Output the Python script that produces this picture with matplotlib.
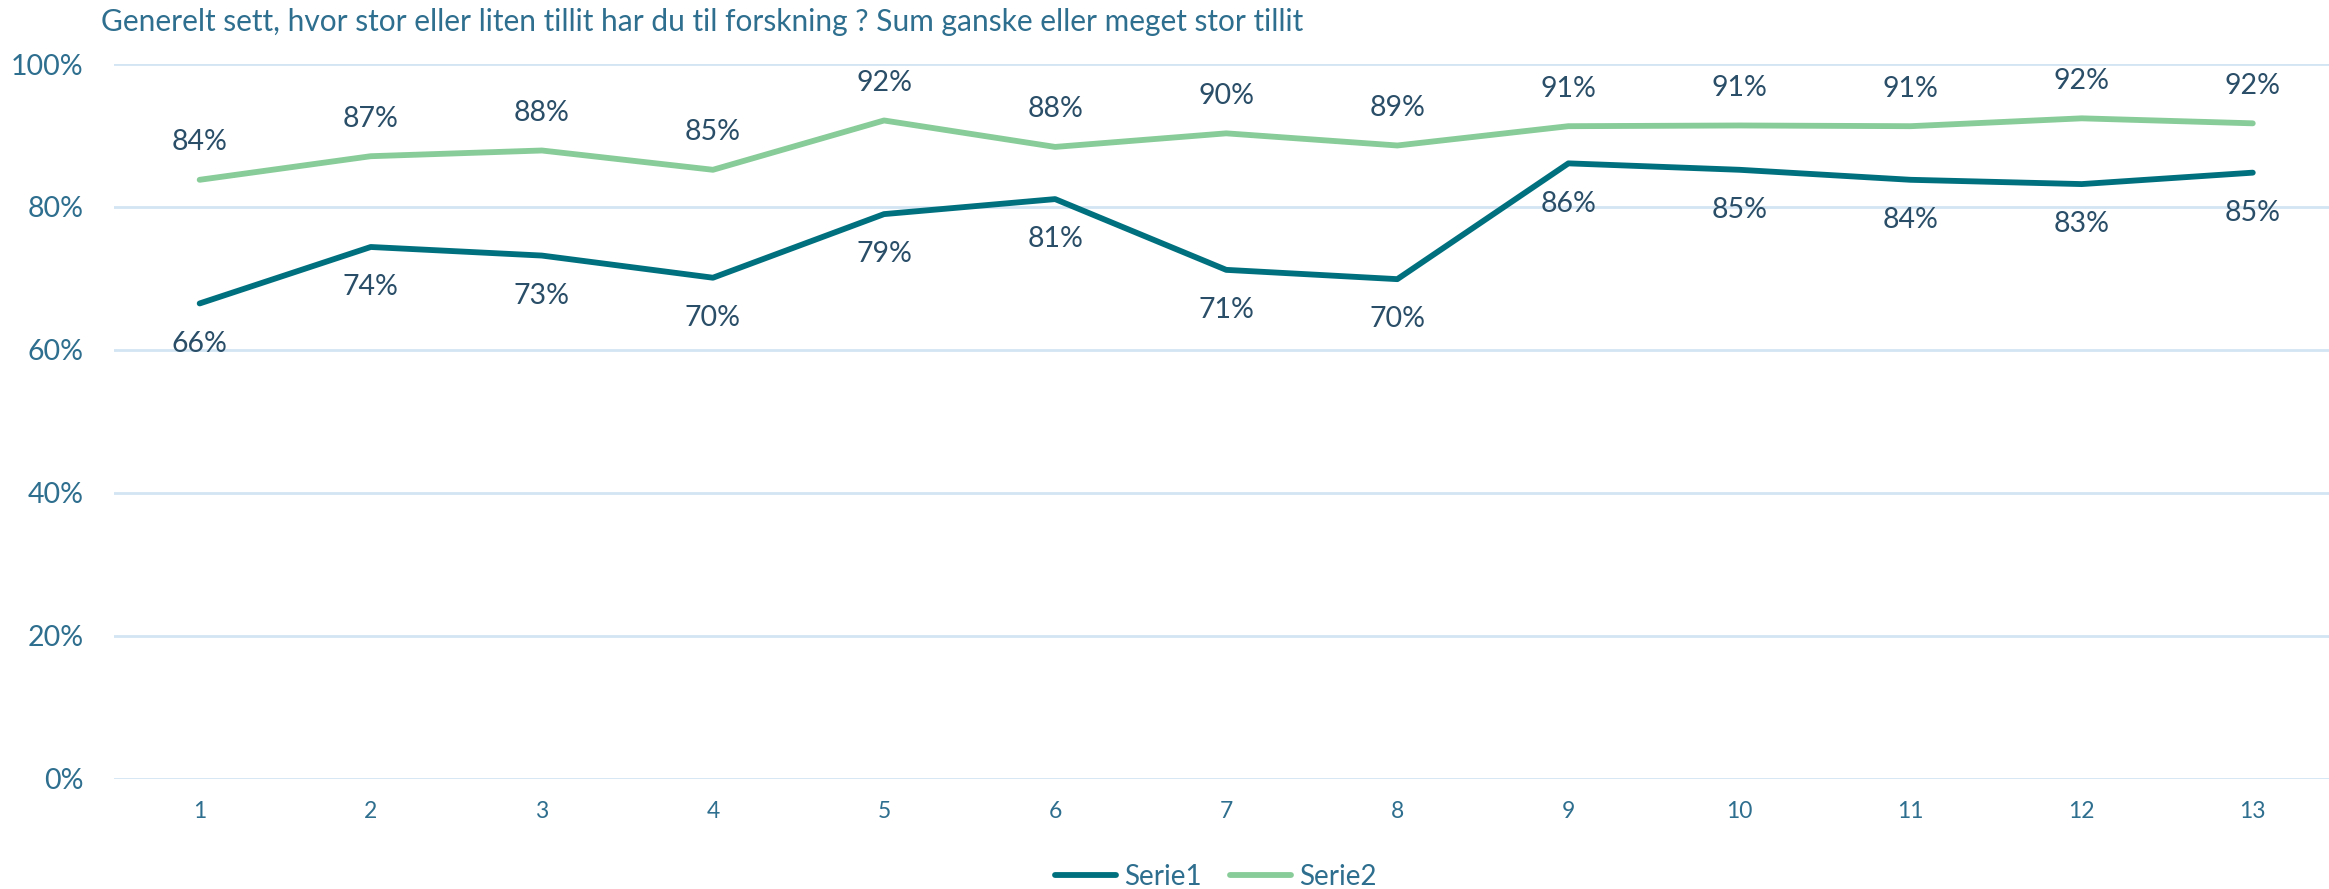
import matplotlib
matplotlib.use("Agg")
import matplotlib.pyplot as plt
from matplotlib.ticker import FuncFormatter

plt.rcParams["font.family"] = ["Lato", "DejaVu Sans"]

# data
rounds = [1, 2, 3, 4, 5, 6, 7, 8, 9, 10, 11, 12, 13]
serie1 = [0.665, 0.744, 0.732, 0.701, 0.790, 0.811, 0.712, 0.699, 0.861, 0.852, 0.838, 0.832, 0.848]
serie2 = [0.838, 0.871, 0.879, 0.852, 0.921, 0.884, 0.903, 0.886, 0.913, 0.914, 0.913, 0.924, 0.917]
labels1 = ["66%", "74%", "73%", "70%", "79%", "81%", "71%", "70%", "86%", "85%", "84%", "83%", "85%"]
labels2 = ["84%", "87%", "88%", "85%", "92%", "88%", "90%", "89%", "91%", "91%", "91%", "92%", "92%"]

title = "Generelt sett, hvor stor eller liten tillit har du til forskning ? Sum ganske eller meget stor tillit"

c1 = "#00707F"
c2 = "#88CC99"
axis_txt = "#2E6E8E"
lbl_txt = "#2A4E68"
grid_col = "#D3E5F2"

fig = plt.figure(figsize=(23.29, 8.89), dpi=100)
ax = fig.add_axes([0.049, 0.124, 0.955, 0.804])

ax.plot(rounds, serie1, color=c1, lw=4.2, solid_capstyle="round", label="Serie1")
ax.plot(rounds, serie2, color=c2, lw=4.2, solid_capstyle="round", label="Serie2")

for x, y, t in zip(rounds, serie1, labels1):
    ax.annotate(t, (x, y), xytext=(0, -29), textcoords="offset points",
                ha="center", va="center", fontsize=20.5, color=lbl_txt)
for x, y, t in zip(rounds, serie2, labels2):
    ax.annotate(t, (x, y), xytext=(0, 27), textcoords="offset points",
                ha="center", va="center", fontsize=20.5, color=lbl_txt)

ax.set_xlim(0.5, 13.5)
ax.set_ylim(0, 1)
ax.set_yticks([0, 0.2, 0.4, 0.6, 0.8, 1.0])
ax.yaxis.set_major_formatter(FuncFormatter(lambda v, p: f"{v*100:.0f}%"))
ax.set_xticks(rounds)
ax.grid(axis="y", color=grid_col, lw=2)
ax.set_axisbelow(True)
for s in ax.spines.values():
    s.set_visible(False)
ax.tick_params(axis="y", length=0, labelsize=20.5, labelcolor=axis_txt, pad=22)
ax.tick_params(axis="x", length=0, labelsize=16.5, labelcolor=axis_txt, pad=16)

fig.text(0.0434, 0.975, title, fontsize=21.5, color=axis_txt, ha="left", va="center")

fig.legend(loc="center", bbox_to_anchor=(0.522, 0.014), ncol=2, frameon=False,
           fontsize=20, labelcolor=axis_txt, handlelength=2.2, handletextpad=0.3,
           columnspacing=1.0)

fig.savefig("out.png", dpi=100)
